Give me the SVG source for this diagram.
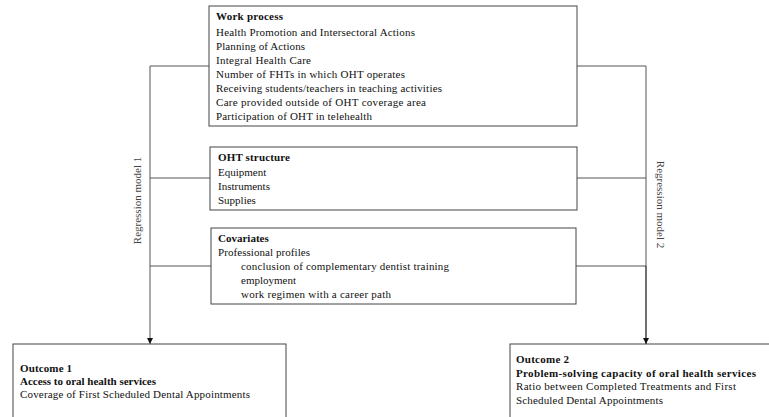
<svg xmlns="http://www.w3.org/2000/svg" width="769" height="417" viewBox="0 0 769 417">
<style>
text{font-family:"Liberation Serif","Times New Roman",serif;font-size:11px;fill:#111}
.b{font-weight:bold}
.box{fill:#fff;stroke:#444;stroke-width:1}
.ln{stroke:#555;stroke-width:1;fill:none}
.ar{stroke:#111;stroke-width:1.2;fill:none}
.rl{fill:#444}
</style>
<defs>
<marker id="ah" viewBox="0 0 6 6" refX="6" refY="3" markerWidth="6" markerHeight="6" markerUnits="userSpaceOnUse" orient="auto">
<path d="M0,0 L6,3 L0,6 z" fill="#111"/>
</marker>
</defs>
<rect width="769" height="417" fill="#fff"/>
<g id="connectors">
<line class="ln" x1="150" y1="66" x2="209" y2="66"/>
<line class="ln" x1="150" y1="178" x2="210" y2="178"/>
<line class="ln" x1="150" y1="266" x2="211" y2="266"/>
<line class="ln" x1="577" y1="66" x2="646" y2="66"/>
<line class="ln" x1="577" y1="178" x2="646" y2="178"/>
<line class="ln" x1="576" y1="266" x2="646" y2="266"/>
<line class="ln" x1="150" y1="66" x2="150" y2="344" marker-end="url(#ah)"/>
<line class="ln" x1="646" y1="66" x2="646" y2="266"/>
<line class="ar" x1="646" y1="266" x2="646" y2="344" marker-end="url(#ah)"/>
<text class="rl" transform="translate(140.5,200.5) rotate(-90)" text-anchor="middle">Regression model 1</text>
<text class="rl" transform="translate(656.5,204.5) rotate(90)" text-anchor="middle">Regression model 2</text>
</g>
<g id="work-process">
<rect class="box" x="209" y="6" width="368" height="120"/>
<text class="b" x="216" y="20" textLength="67">Work process</text>
<text x="216" y="35.5" textLength="199">Health Promotion and Intersectoral Actions</text>
<text x="216" y="49.5" textLength="89">Planning of Actions</text>
<text x="216" y="63.5" textLength="95">Integral Health Care</text>
<text x="216" y="77.5" textLength="189">Number of FHTs in which OHT operates</text>
<text x="216" y="91.5" textLength="226">Receiving students/teachers in teaching activities</text>
<text x="216" y="105.5" textLength="210">Care provided outside of OHT coverage area</text>
<text x="216" y="119.5" textLength="156">Participation of OHT in telehealth</text>
</g>
<g id="oht-structure">
<rect class="box" x="210" y="147" width="367" height="63"/>
<text class="b" x="218" y="161" textLength="72">OHT structure</text>
<text x="218" y="175.5">Equipment</text>
<text x="218" y="189.5">Instruments</text>
<text x="218" y="203.5">Supplies</text>
</g>
<g id="covariates">
<rect class="box" x="211" y="228" width="365" height="76"/>
<text class="b" x="218" y="242">Covariates</text>
<text x="218" y="256" textLength="92">Professional profiles</text>
<text x="241" y="270" textLength="208">conclusion of complementary dentist training</text>
<text x="241" y="284">employment</text>
<text x="241" y="298" textLength="150">work regimen with a career path</text>
</g>
<g id="outcome-1">
<rect class="box" x="13" y="344" width="273" height="80"/>
<text class="b" x="20" y="371.5" textLength="52">Outcome 1</text>
<text class="b" x="20" y="384.5" textLength="136">Access to oral health services</text>
<text x="20" y="397.5" textLength="230">Coverage of First Scheduled Dental Appointments</text>
</g>
<g id="outcome-2">
<rect class="box" x="510" y="344" width="270" height="80"/>
<text class="b" x="516" y="363" textLength="53">Outcome 2</text>
<text class="b" x="516" y="376.5" textLength="240">Problem-solving capacity of oral health services</text>
<text x="516" y="390" textLength="220">Ratio between Completed Treatments and First</text>
<text x="516" y="403.5" textLength="147">Scheduled Dental Appointments</text>
</g>
</svg>
